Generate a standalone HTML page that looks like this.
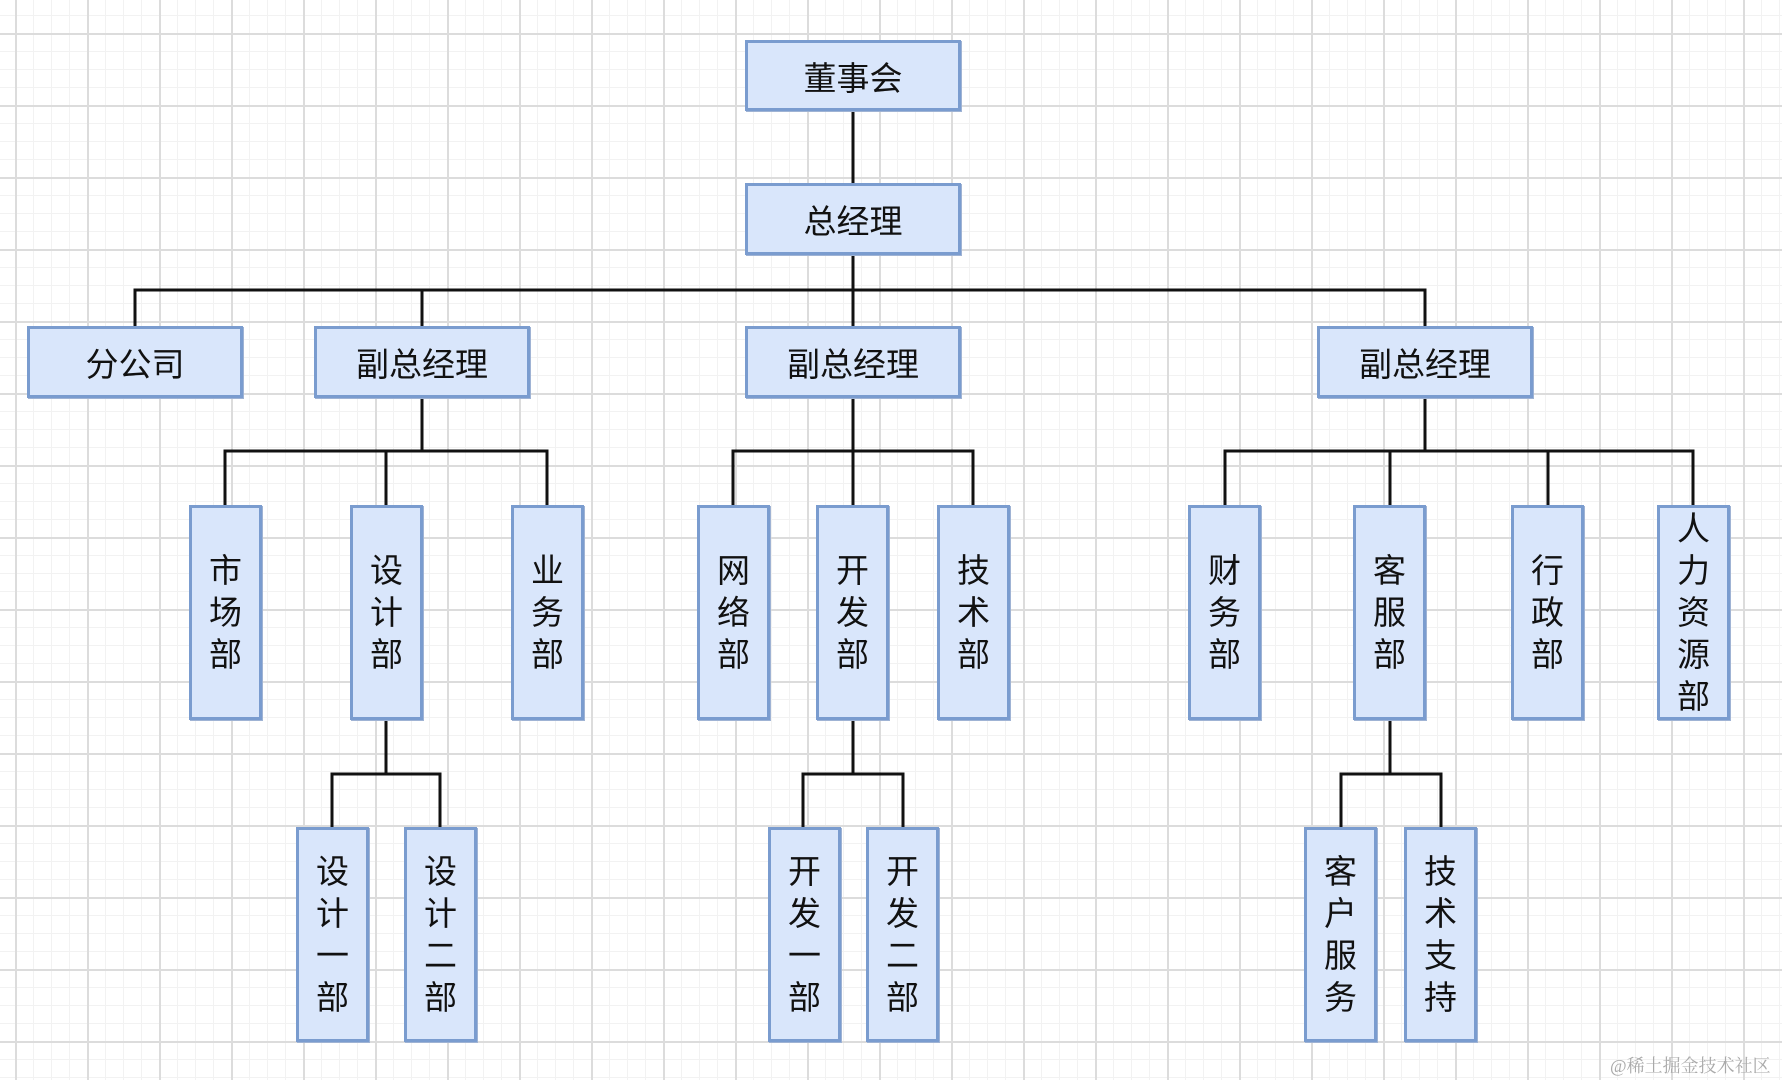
<!DOCTYPE html>
<html><head><meta charset="utf-8"><style>
html,body{margin:0;padding:0}
body{width:1782px;height:1080px;position:relative;overflow:hidden;background:#fff;
background-image:linear-gradient(#dcdcdc 2px,transparent 2px),linear-gradient(90deg,#dcdcdc 2px,transparent 2px),linear-gradient(#f2f2f2 1px,transparent 1px),linear-gradient(90deg,#f2f2f2 1px,transparent 1px);
background-size:72px 72px,72px 72px,18px 18px,18px 18px;background-position:0 33px,15px 0,0 15px,15px 0;
font-family:"Liberation Sans","Noto Sans CJK SC",sans-serif}
.b{position:absolute;box-sizing:border-box;background:#d9e6fb;border:3px solid #7a9ccf;display:flex;align-items:center;justify-content:center;color:#111;font-size:33px;box-shadow:1px 1px 0 #9fb3d4}
.v{flex-direction:column;line-height:42px;font-size:33px}
svg{position:absolute;left:0;top:0}
.wm{position:absolute;left:1610px;top:1052px;font-size:18px;color:#aaa;white-space:nowrap;font-family:"Liberation Serif","Noto Serif CJK SC",serif}
</style></head><body>
<svg width="1782" height="1080" stroke="#111" stroke-width="3" fill="none">
<line x1="853" y1="111" x2="853" y2="183"/>
<line x1="853" y1="255" x2="853" y2="326"/>
<polyline points="135,326 135,290 1425,290 1425,326"/>
<line x1="422" y1="290" x2="422" y2="326"/>
<line x1="422" y1="398" x2="422" y2="451"/>
<polyline points="225,505 225,451 547,451 547,505"/>
<line x1="386" y1="451" x2="386" y2="505"/>
<line x1="853" y1="398" x2="853" y2="505"/>
<polyline points="733,505 733,451 973,451 973,505"/>
<line x1="1425" y1="398" x2="1425" y2="451"/>
<polyline points="1225,505 1225,451 1693,451 1693,505"/>
<line x1="1390" y1="451" x2="1390" y2="505"/>
<line x1="1548" y1="451" x2="1548" y2="505"/>
<line x1="386" y1="720" x2="386" y2="774"/>
<polyline points="332,827 332,774 440,774 440,827"/>
<line x1="853" y1="720" x2="853" y2="774"/>
<polyline points="803,827 803,774 903,774 903,827"/>
<line x1="1390" y1="720" x2="1390" y2="774"/>
<polyline points="1341,827 1341,774 1441,774 1441,827"/>
</svg>
<div class="b" style="left:745px;top:40px;width:216px;height:71px">董事会</div>
<div class="b" style="left:745px;top:183px;width:216px;height:72px">总经理</div>
<div class="b" style="left:27px;top:326px;width:216px;height:72px">分公司</div>
<div class="b" style="left:314px;top:326px;width:216px;height:72px">副总经理</div>
<div class="b" style="left:745px;top:326px;width:216px;height:72px">副总经理</div>
<div class="b" style="left:1317px;top:326px;width:216px;height:72px">副总经理</div>

<div class="b v" style="left:189px;top:505px;width:73px;height:215px"><span>市</span><span>场</span><span>部</span></div>
<div class="b v" style="left:350px;top:505px;width:73px;height:215px"><span>设</span><span>计</span><span>部</span></div>
<div class="b v" style="left:511px;top:505px;width:73px;height:215px"><span>业</span><span>务</span><span>部</span></div>
<div class="b v" style="left:697px;top:505px;width:73px;height:215px"><span>网</span><span>络</span><span>部</span></div>
<div class="b v" style="left:816px;top:505px;width:73px;height:215px"><span>开</span><span>发</span><span>部</span></div>
<div class="b v" style="left:937px;top:505px;width:73px;height:215px"><span>技</span><span>术</span><span>部</span></div>
<div class="b v" style="left:1188px;top:505px;width:73px;height:215px"><span>财</span><span>务</span><span>部</span></div>
<div class="b v" style="left:1353px;top:505px;width:73px;height:215px"><span>客</span><span>服</span><span>部</span></div>
<div class="b v" style="left:1511px;top:505px;width:73px;height:215px"><span>行</span><span>政</span><span>部</span></div>
<div class="b v" style="left:1657px;top:505px;width:73px;height:215px"><span>人</span><span>力</span><span>资</span><span>源</span><span>部</span></div>

<div class="b v" style="left:296px;top:827px;width:73px;height:215px"><span>设</span><span>计</span><span>一</span><span>部</span></div>
<div class="b v" style="left:404px;top:827px;width:73px;height:215px"><span>设</span><span>计</span><span>二</span><span>部</span></div>
<div class="b v" style="left:768px;top:827px;width:73px;height:215px"><span>开</span><span>发</span><span>一</span><span>部</span></div>
<div class="b v" style="left:866px;top:827px;width:73px;height:215px"><span>开</span><span>发</span><span>二</span><span>部</span></div>
<div class="b v" style="left:1304px;top:827px;width:73px;height:215px"><span>客</span><span>户</span><span>服</span><span>务</span></div>
<div class="b v" style="left:1404px;top:827px;width:73px;height:215px"><span>技</span><span>术</span><span>支</span><span>持</span></div>
<div class="wm">@稀土掘金技术社区</div>
</body></html>
